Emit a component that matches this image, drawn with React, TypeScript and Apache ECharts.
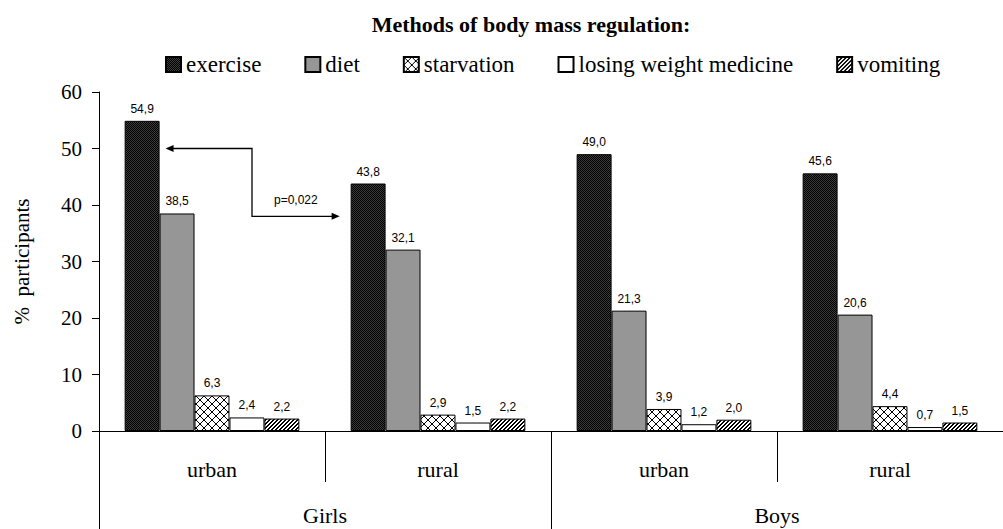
import React, { useEffect, useRef } from 'react';
import * as echarts from 'echarts';

const subgroups = ['urban', 'rural', 'urban', 'rural'];
const groups = ['Girls', 'Boys'];
const methods = ['exercise', 'diet', 'starvation', 'losing weight medicine', 'vomiting'];
const exercise = [54.9, 43.8, 49.0, 45.6];
const diet = [38.5, 32.1, 21.3, 20.6];
const starvation = [6.3, 2.9, 3.9, 4.4];
const medicine = [2.4, 1.5, 1.2, 0.7];
const vomiting = [2.2, 2.2, 2.0, 1.5];
const yTicks = [0, 10, 20, 30, 40, 50, 60];
const titleText = 'Methods of body mass regulation:';
const yAxisName = '%  participants';
const pText = 'p=0,022';
const arrowFromValue = 50;
const arrowToValue = 38;

const SERIF = 'Liberation Serif';
const SANS = 'Liberation Sans';
const CAT_GAP = 0.227;

function makePattern(size: number, bg: string, painter: (x: number, y: number) => string | null) {
  const c = document.createElement('canvas');
  c.width = size;
  c.height = size;
  const ctx = c.getContext('2d')!;
  ctx.fillStyle = bg;
  ctx.fillRect(0, 0, size, size);
  for (let y = 0; y < size; y++) {
    for (let x = 0; x < size; x++) {
      const col = painter(x, y);
      if (col) {
        ctx.fillStyle = col;
        ctx.fillRect(x, y, 1, 1);
      }
    }
  }
  return { image: c, repeat: 'repeat' as const };
}

export default function App() {
  const ref = useRef<HTMLDivElement>(null);
  useEffect(() => {
    if (!ref.current) return;
    const chart = echarts.init(ref.current, undefined, { renderer: 'svg' });

    const exercisePat = makePattern(2, '#000', (x, y) => ((x + y) % 2 === 1 ? '#3c3c3c' : null));
    const starvPat = makePattern(8, '#fff', (x, y) => (x === y || x === 7 - y ? '#000' : null));
    const vomitPat = makePattern(4, '#fff', (x, y) => ((x + y) % 4 <= 1 ? '#000' : null));

    const defs = [
      { name: methods[0], data: exercise, color: exercisePat },
      { name: methods[1], data: diet, color: '#969696' },
      { name: methods[2], data: starvation, color: starvPat },
      { name: methods[3], data: medicine, color: '#ffffff' },
      { name: methods[4], data: vomiting, color: vomitPat },
    ];

    chart.setOption({
      animation: false,
      title: {
        text: titleText,
        left: 526,
        textAlign: 'center',
        top: 8,
        textStyle: { fontFamily: SERIF, fontWeight: 'bold', fontSize: 22, color: '#000' },
      },
      legend: {
        top: 48,
        left: 160,
        icon: 'rect',
        itemWidth: 15,
        itemHeight: 15,
        itemGap: 43,
        data: methods,
        textStyle: { fontFamily: SERIF, fontSize: 23, color: '#000' },
      },
      grid: { left: 99, right: -12, top: 92, bottom: 98, containLabel: false },
      xAxis: [
        {
          type: 'category',
          data: subgroups,
          position: 'bottom',
          axisLine: { show: true, lineStyle: { color: '#000', width: 1 } },
          axisTick: { show: true, interval: 0, alignWithLabel: false, length: 51, lineStyle: { color: '#000' } },
          axisLabel: { interval: 0, margin: 27, fontFamily: SERIF, fontSize: 22, color: '#000' },
        },
        {
          type: 'category',
          data: groups,
          position: 'bottom',
          axisLine: { show: false },
          axisTick: { show: true, interval: 0, alignWithLabel: false, length: 100, lineStyle: { color: '#000' } },
          axisLabel: { interval: 0, margin: 73, fontFamily: SERIF, fontSize: 22, color: '#000' },
        },
      ],
      yAxis: {
        type: 'value',
        min: yTicks[0],
        max: yTicks[yTicks.length - 1],
        interval: yTicks[1] - yTicks[0],
        name: yAxisName,
        nameLocation: 'middle',
        nameGap: 67,
        nameRotate: 90,
        nameTextStyle: { fontFamily: SERIF, fontSize: 21, color: '#000' },
        axisLine: { show: true, lineStyle: { color: '#000', width: 1 } },
        axisTick: { show: true, length: 7, lineStyle: { color: '#000' } },
        splitLine: { show: false },
        axisLabel: { margin: 17, fontFamily: SERIF, fontSize: 21, color: '#000' },
      },
      series: defs.map((d) => ({
        type: 'bar',
        name: d.name,
        data: d.data,
        xAxisIndex: 0,
        barGap: '0%',
        barCategoryGap: CAT_GAP * 100 + '%',
        itemStyle: { color: d.color, borderColor: '#000', borderWidth: 1 },
        label: {
          show: true,
          position: 'top',
          distance: 6,
          formatter: (p: any) => Number(p.value).toFixed(1).replace('.', ','),
          fontFamily: SANS,
          fontSize: 12,
          color: '#000',
        },
      })),
    });

    const p0 = chart.convertToPixel({ gridIndex: 0 }, [0, arrowFromValue]) as number[];
    const p1 = chart.convertToPixel({ gridIndex: 0 }, [1, arrowToValue]) as number[];
    const band = p1[0] - p0[0];
    const groupW = band * (1 - CAT_GAP);
    const barW = groupW / defs.length;
    const exRight0 = p0[0] - groupW / 2 + barW;
    const exLeft1 = p1[0] - groupW / 2;
    const tipL = exRight0 + 6;
    const xv = p0[0] + 0.177 * band;
    const tipR = exLeft1 - 11;
    const yA = p0[1];
    const yB = p1[1];

    chart.setOption({
      graphic: [
        {
          type: 'polyline',
          shape: { points: [[tipL + 4, yA], [xv, yA], [xv, yB], [tipR - 4, yB]] },
          style: { stroke: '#000', lineWidth: 1.3, fill: 'none' },
        },
        {
          type: 'polygon',
          shape: { points: [[tipL, yA], [tipL + 8, yA - 3.5], [tipL + 8, yA + 3.5]] },
          style: { fill: '#000' },
        },
        {
          type: 'polygon',
          shape: { points: [[tipR, yB], [tipR - 8, yB - 3.5], [tipR - 8, yB + 3.5]] },
          style: { fill: '#000' },
        },
        {
          type: 'text',
          x: (xv + tipR) / 2,
          y: yB - 16,
          style: { text: pText, fontFamily: SANS, fontSize: 12, fill: '#000', align: 'center', verticalAlign: 'middle' },
        },
      ],
    });

    return () => chart.dispose();
  }, []);

  return <div ref={ref} style={{ position: 'absolute', left: 0, top: 0, width: 1003, height: 529 }} />;
}
